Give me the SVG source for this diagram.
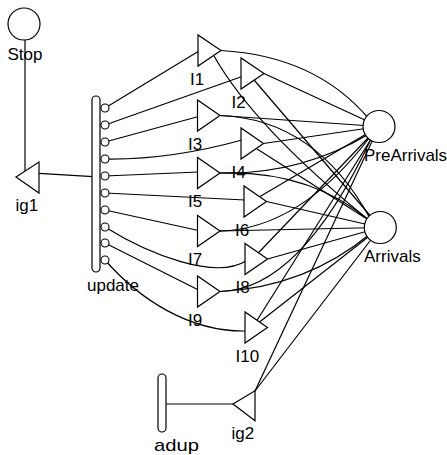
<svg xmlns="http://www.w3.org/2000/svg" width="447" height="455" viewBox="0 0 447 455">
  <style>
    .edge{fill:none;stroke:#000;stroke-width:1.2}
    .place{fill:#fff;stroke:#000;stroke-width:1.2}
    .gate{fill:#fff;stroke:#000;stroke-width:1.2}
    .act{fill:#fff;stroke:#000;stroke-width:1.2}
    .case{fill:#fff;stroke:#000;stroke-width:1.1}
    .lbl{font-family:"Liberation Sans",Arial,sans-serif;font-size:17px;fill:#000}
  </style>
  <rect width="447" height="455" fill="#fff"/>

  <!-- arcs: drawn first so the white-filled nodes clip them at their outlines -->
  <g id="connectors">
    <path class="edge" d="M25,40 L25,172"/>
    <path class="edge" d="M39,173.3 L93,176.7"/>
    <path class="edge" d="M166,404 L233,404"/>

    <!-- update cases to output gates -->
    <path class="edge" d="M105,108 L199,51"/>
    <path class="edge" d="M105,125 L242,76.5"/>
    <path class="edge" d="M105,142 L198.5,116.5"/>
    <path class="edge" d="M105,159 Q170,160 242,140"/>
    <path class="edge" d="M105,176 L198.5,172"/>
    <path class="edge" d="M105,193 L245,200"/>
    <path class="edge" d="M105,210 L198.5,230.5"/>
    <path class="edge" d="M105,227 C150,255 215,280 246,261"/>
    <path class="edge" d="M105,243 L198.5,290"/>
    <path class="edge" d="M105,260 C140,300 190,332 246,331"/>

    <!-- output gates to places -->
    <path class="edge" d="M221,50.5 Q316,56 369,119"/>
    <path class="edge" d="M214,56 Q255,128 370,221"/>
    <path class="edge" d="M264,73.5 L379,126.5"/>
    <path class="edge" d="M248.5,73.5 L380.3,227.5"/>
    <path class="edge" d="M220,115.5 L379,126.5"/>
    <path class="edge" d="M220,115.5 Q316,119 371,220"/>
    <path class="edge" d="M263.5,143.5 L379,126.5"/>
    <path class="edge" d="M248.5,143.5 L380.3,227.5"/>
    <path class="edge" d="M220,173 Q300,175 369,134"/>
    <path class="edge" d="M220,173 Q310,170 370,221"/>
    <path class="edge" d="M251.5,201.5 L379,126.5"/>
    <path class="edge" d="M266.5,201.5 L380.3,227.5"/>
    <path class="edge" d="M220,231 Q300,229 370,137"/>
    <path class="edge" d="M220,231 L380.3,227.5"/>
    <path class="edge" d="M252.5,259 L379,126.5"/>
    <path class="edge" d="M267.5,259 L380.3,227.5"/>
    <path class="edge" d="M220,291.5 Q300,290 371,139"/>
    <path class="edge" d="M220,291.5 Q306,287 370,234"/>
    <path class="edge" d="M252.5,327.5 L379,126.5"/>
    <path class="edge" d="M252.5,327.5 L380.3,227.5"/>

    <!-- input gate ig2 to places -->
    <path class="edge" d="M255,391 L379,126.5"/>
    <path class="edge" d="M255,391 L380.3,227.5"/>
  </g>

  <g id="Stop">
    <circle class="place" cx="24" cy="24" r="16"/>
    <text class="lbl" x="7.5" y="59.5">Stop</text>
  </g>

  <g id="ig1">
    <polygon class="gate" points="16,177 39,162 39,193"/>
    <text class="lbl" x="15.5" y="211">ig1</text>
  </g>

  <g id="update">
    <rect class="act" x="92" y="96" width="8" height="176" rx="4"/>
    <circle class="case" cx="105" cy="108" r="4"/>
    <circle class="case" cx="105" cy="125" r="4"/>
    <circle class="case" cx="105" cy="142" r="4"/>
    <circle class="case" cx="105" cy="159" r="4"/>
    <circle class="case" cx="105" cy="176" r="4"/>
    <circle class="case" cx="105" cy="193" r="4"/>
    <circle class="case" cx="105" cy="210" r="4"/>
    <circle class="case" cx="105" cy="227" r="4"/>
    <circle class="case" cx="105" cy="243" r="4"/>
    <circle class="case" cx="105" cy="260" r="4"/>
    <text class="lbl" x="87" y="290.5">update</text>
  </g>

  <g id="I1">
    <polygon class="gate" points="198,35 198,66 221,50.5"/>
    <text class="lbl" x="190" y="84.5">I1</text>
  </g>
  <g id="I2">
    <polygon class="gate" points="241,58 241,89 264,73.5"/>
    <text class="lbl" x="231.5" y="107.5">I2</text>
  </g>
  <g id="I3">
    <polygon class="gate" points="197.5,100 197.5,131 220,115.5"/>
    <text class="lbl" x="188" y="149.5">I3</text>
  </g>
  <g id="I4">
    <polygon class="gate" points="241,128 241,159 263.5,143.5"/>
    <text class="lbl" x="231.5" y="177.5">I4</text>
  </g>
  <g id="I5">
    <polygon class="gate" points="197.5,157.5 197.5,188.5 220,173"/>
    <text class="lbl" x="188" y="207">I5</text>
  </g>
  <g id="I6">
    <polygon class="gate" points="244,186 244,217 266.5,201.5"/>
    <text class="lbl" x="235" y="235.5">I6</text>
  </g>
  <g id="I7">
    <polygon class="gate" points="197.5,215.5 197.5,246.5 220,231"/>
    <text class="lbl" x="188" y="265">I7</text>
  </g>
  <g id="I8">
    <polygon class="gate" points="245,243.5 245,274.5 267.5,259"/>
    <text class="lbl" x="235.5" y="293">I8</text>
  </g>
  <g id="I9">
    <polygon class="gate" points="197.5,276 197.5,307 220,291.5"/>
    <text class="lbl" x="188" y="325.5">I9</text>
  </g>
  <g id="I10">
    <polygon class="gate" points="245,312 245,343 267.5,327.5"/>
    <text class="lbl" x="235.5" y="361.5">I10</text>
  </g>

  <g id="PreArrivals">
    <circle class="place" cx="379" cy="126.5" r="16"/>
    <text class="lbl" x="364" y="161">PreArrivals</text>
  </g>
  <g id="Arrivals">
    <circle class="place" cx="380.3" cy="227.5" r="16"/>
    <text class="lbl" x="364" y="262">Arrivals</text>
  </g>

  <g id="adup">
    <rect class="act" x="158" y="374" width="8" height="58" rx="4"/>
    <text class="lbl" x="154" y="450.5" textLength="45" lengthAdjust="spacingAndGlyphs">adup</text>
  </g>
  <g id="ig2">
    <polygon class="gate" points="233,404 255,390.7 255,420.7"/>
    <text class="lbl" x="231.5" y="439">ig2</text>
  </g>
</svg>
